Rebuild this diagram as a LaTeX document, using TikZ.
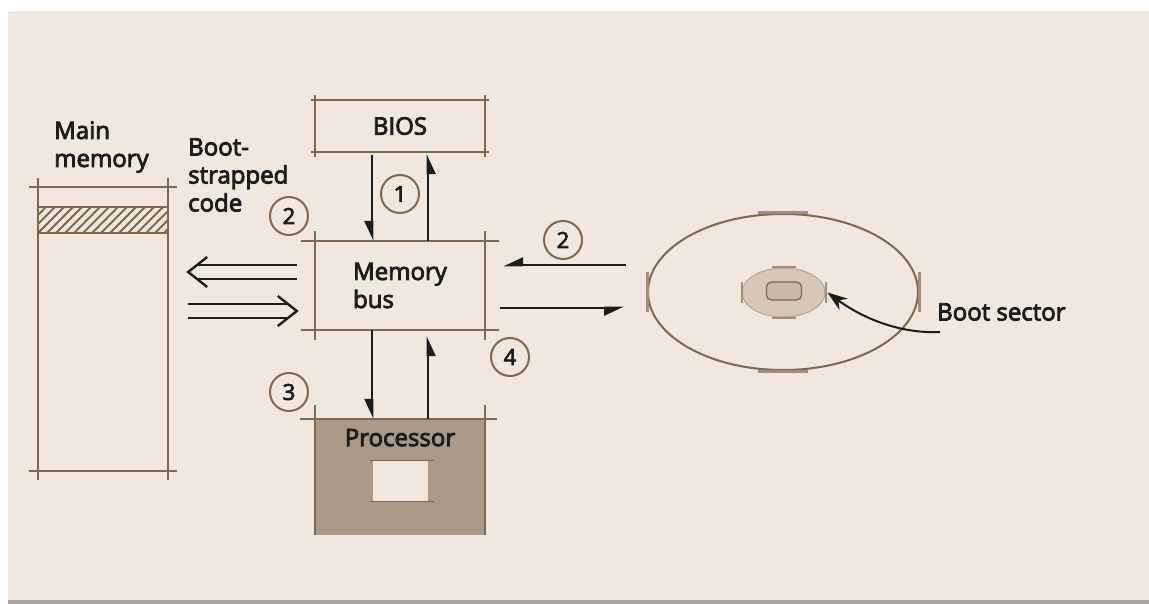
\documentclass[tikz,border=0pt]{standalone}
\usepackage{fontspec}
\setmainfont{Open Sans}[FakeBold=3.5]
\usetikzlibrary{arrows.meta,shapes.geometric,positioning}

\definecolor{paper}{RGB}{240,232,222}
\definecolor{ink}{RGB}{128,103,78}
\definecolor{procgray}{RGB}{170,152,136}
\definecolor{sectorfill}{RGB}{214,199,184}
\definecolor{txt}{RGB}{28,28,28}

% box drawn as four overshooting pencil lines
\newcommand{\sketchframe}[3]{%
  \draw[sketchline] ([xshift=-#2]#1.north west) -- ([xshift=#2]#1.north east);
  \draw[sketchline] ([xshift=-#2]#1.south west) -- ([xshift=#2]#1.south east);
  \draw[sketchline] ([yshift=#3]#1.north west) -- ([yshift=-#3]#1.south west);
  \draw[sketchline] ([yshift=#3]#1.north east) -- ([yshift=-#3]#1.south east);
}

\begin{document}
\begin{tikzpicture}[x=1pt, y=-1pt,
    sketchline/.style={draw=ink, line width=2.5pt},
    flow/.style={draw=txt, line width=2.6pt, -{Stealth[harpoon,swap,length=17pt,width=15pt,inset=0pt]}},
    dbl/.style={draw=txt, double=paper, double distance=12pt, line width=2.4pt},
    chev/.style={draw=txt, line width=2.4pt},
    num/.style={circle, draw=ink, line width=2pt, minimum size=38pt, inner sep=0pt, text=txt, font=\fontsize{22}{22}\selectfont},
    lbl/.style={font=\fontsize{24}{28}\selectfont, align=left, inner sep=0pt, text=txt},
    blk/.style={minimum width=170pt, inner sep=0pt},
    tick/.style={draw=ink!75, line width=3pt}]
  \fill[white] (0,0) rectangle (1149,604);
  \useasboundingbox (0,0) rectangle (1149,604);
  \fill[paper] (8,11) rectangle (1149,600);
  \fill[gray!70] (8,600) rectangle (1149,604);

  % main memory with the boot-strapped band
  \node[minimum width=130pt, minimum height=284pt, inner sep=0pt] (mainmem) at (103,329) {};
  \begin{scope}
    \clip (38,207) rectangle (168,233);
    \foreach \x in {4,13,...,180}
      \draw[ink, line width=2pt] (\x,240) -- ++(40,-40);
  \end{scope}
  \draw[ink, line width=2pt] (38,207) -- (168,207) (38,233) -- (168,233);
  \sketchframe{mainmem}{9pt}{9pt}
  \node[lbl, anchor=west] (mmlbl) at (54,147) {Main\\memory};
  \node[lbl, anchor=west] (bootlbl) at (188,175) {Boot-\\strapped\\code};

  % BIOS, bus, processor
  \node[blk, lbl, minimum height=52pt] (bios) at (400,126) {BIOS};
  \node[blk, lbl, minimum height=89pt] (membus) at (400,285.5) {Memory\\bus};
  \node[blk, minimum height=116pt, fill=procgray] (proc) at (400,477) {};
  \node[lbl, below=10pt of proc.north] (proclbl) {Processor};
  \node[minimum width=55pt, minimum height=41pt, inner sep=0pt, fill=paper] (chip) at (400,481) {};
  \draw[ink, line width=1.5pt] ([xshift=-2pt]chip.north west) -- ([xshift=6pt]chip.north east);
  \draw[ink, line width=1.5pt] ([xshift=-2pt]chip.south west) -- ([xshift=6pt]chip.south east);
  \sketchframe{bios}{4pt}{5pt}
  \sketchframe{membus}{14pt}{10pt}
  \draw[sketchline] ([xshift=-15pt]proc.north west) -- ([xshift=12pt]proc.north east);
  \draw[sketchline] ([yshift=14pt]proc.north west) -- (proc.south west);
  \draw[sketchline] ([yshift=14pt]proc.north east) -- (proc.south east);

  \draw[flow] ([xshift=-28pt,yshift=-3pt]bios.south) -- ([xshift=-28pt]membus.north);
  \draw[flow] ([xshift=28pt]membus.north) -- ([xshift=28pt,yshift=-2pt]bios.south);
  \draw[flow] ([xshift=-28pt]membus.south) -- ([xshift=-28pt]proc.north);
  \draw[flow] ([xshift=28pt]proc.north) -- ([xshift=28pt,yshift=-6pt]membus.south);

  % copy to and from main memory
  \coordinate (backtip) at ([xshift=20pt,yshift=57pt]mainmem.east);
  \coordinate (fwdtip) at ([xshift=-18pt,yshift=-25.5pt]membus.west);
  \draw[dbl] ([xshift=-18pt,yshift=13.5pt]membus.west) -- ([xshift=10pt]backtip);
  \draw[chev] ([shift={(19,-15)}]backtip) -- (backtip) -- ([shift={(19,15)}]backtip);
  \draw[dbl] ([xshift=20pt,yshift=18pt]mainmem.east) -- ([xshift=-10pt]fwdtip);
  \draw[chev] ([shift={(-19,-15)}]fwdtip) -- (fwdtip) -- ([shift={(-19,15)}]fwdtip);

  % disk
  \node[ellipse, draw=ink, line width=2pt, minimum width=270pt, minimum height=156pt, inner sep=0pt] (disk) at (783,292) {};
  \draw[tick] ([xshift=-25pt]disk.north) -- ([xshift=25pt]disk.north);
  \draw[tick] ([xshift=-25pt]disk.south) -- ([xshift=25pt]disk.south);
  \draw[tick] ([yshift=-20pt]disk.west) -- ([yshift=20pt]disk.west);
  \draw[tick] ([yshift=-20pt]disk.east) -- ([yshift=20pt]disk.east);
  \node[ellipse, draw=ink!60, fill=sectorfill, line width=1pt, minimum width=83pt, minimum height=49pt, inner sep=0pt] (sector) at (783.5,292.5) {};
  \draw[tick, line width=2pt] ([xshift=-12pt]sector.north) -- ([xshift=12pt]sector.north);
  \draw[tick, line width=2pt] ([xshift=-12pt]sector.south) -- ([xshift=12pt]sector.south);
  \draw[tick, line width=2pt] ([yshift=-10pt]sector.west) -- ([yshift=10pt]sector.west);
  \draw[tick, line width=2pt] ([yshift=-10pt]sector.east) -- ([yshift=10pt]sector.east);
  \node[rounded corners=5pt, draw=ink, fill=sectorfill!85!ink, line width=1.3pt, minimum width=35pt, minimum height=18pt, inner sep=0pt] (hub) at (784,291) {};

  \draw[flow] ([xshift=-21pt,yshift=27pt]disk.west) -- ([xshift=18pt,yshift=20.5pt]membus.east);
  \draw[flow] ([xshift=15pt,yshift=-22.5pt]membus.east) -- ([xshift=-23pt,yshift=-16pt]disk.west);

  \node[lbl, anchor=west] (bslbl) at (937,312) {Boot sector};
  \draw[txt, line width=2pt, -{Stealth[length=20pt,width=14pt]}] ([shift={(3,20)}]bslbl.west) .. controls +(-45,2) and +(30,22) .. ([xshift=2pt]sector.east);

  \node[num] (n1) at (400,194) {1};
  \node[num] (n2a) at (289,216) {2};
  \node[num] (n2b) at (563,240) {2};
  \node[num] (n3) at (289,392) {3};
  \node[num] (n4) at (510,357) {4};
\end{tikzpicture}
\end{document}
